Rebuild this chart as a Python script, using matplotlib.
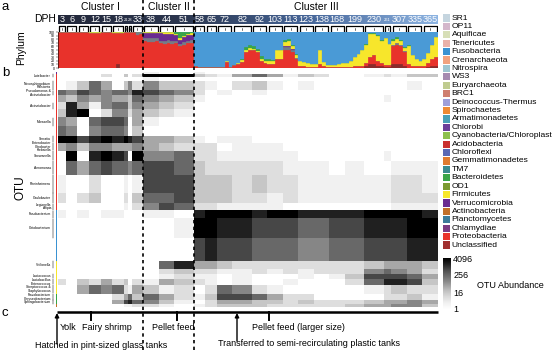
import numpy as np
import matplotlib.pyplot as plt
from matplotlib.colors import LinearSegmentedColormap
from matplotlib.patches import Rectangle

plt.rcParams['font.family'] = ['Liberation Sans', 'DejaVu Sans']

# ----------------------------------
# 1. Data
# ----------------------------------
dph = [3, 6, 9, 12, 15, 18, 21, 28, 33, 38, 44, 51, 58, 65, 72, 82, 92, 103,
       113, 123, 138, 168, 199, 230, 261, 307, 335, 365]
n_samples = [2, 3, 3, 3, 3, 3, 1, 1, 3, 4, 4, 5, 3, 3, 4, 5, 4, 4, 4, 4, 4, 4,
             5, 5, 2, 4, 4, 4]
cluster_names = ["Cluster I", "Cluster II", "Cluster III"]
cluster_tp = [9, 3, 16]          # time points in each cluster
small_dph = [21, 28, 261]

# phylum relative abundance (%) per sample, keyed by DPH
prot_pct = {3: [100, 100], 6: [100, 100, 100], 9: [100, 100, 100], 12: [97, 96, 98],
            15: [100, 100, 100], 18: [98, 88, 98], 21: [100], 28: [100], 33: [100, 92, 95],
            38: [75, 73, 72, 74], 44: [70, 67, 69, 67], 51: [70, 62, 65, 70, 70],
            58: [6, 4, 3], 65: [3, 2, 2], 72: [3, 3, 18, 3], 82: [8, 12, 18, 45, 50],
            92: [50, 45, 20, 15], 103: [12, 10, 25, 25], 113: [50, 50, 45, 25],
            123: [5, 5, 4, 4], 138: [4, 10, 5, 3], 168: [3, 3, 3, 3], 199: [3, 4, 5, 5, 5],
            230: [10, 20, 25, 15, 10], 261: [5, 5], 307: [50, 55, 50, 40],
            335: [10, 5, 5, 5], 365: [5, 10, 20, 25]}
firm_pct = {12: [3, 4, 2], 18: [2, 2, 2], 38: [2, 3, 3, 3], 44: [4, 5, 5, 5],
            51: [4, 5, 5, 4, 4], 72: [0, 0, 2, 0], 82: [0, 2, 3, 5, 5], 92: [3, 3, 5, 5],
            103: [8, 10, 25, 25], 113: [12, 15, 10, 8], 123: [15, 12, 10, 8],
            138: [6, 40, 12, 5], 168: [5, 5, 8, 10], 199: [10, 15, 25, 35, 45],
            230: [50, 65, 60, 70, 60], 261: [75, 60], 307: [10, 10, 10, 8],
            335: [50, 30, 20, 15], 365: [20, 30, 40, 55]}
bact_pct = {51: [5, 18, 10, 5, 3], 82: [0, 0, 3, 8, 10], 92: [8, 5, 8, 5], 103: [5, 3, 0, 0],
            113: [5, 5, 3, 2], 230: [3, 2, 3, 2, 2], 307: [5, 5, 3, 2], 335: [5, 0, 0, 0]}
verr_pct = {38: [15, 14, 15, 15], 44: [20, 20, 18, 20], 51: [15, 10, 12, 15, 15],
            113: [3, 3, 2, 0]}
other_pct = {33: [0, 8, 5], 38: [8, 10, 10, 8], 44: [6, 8, 8, 8], 51: [6, 5, 8, 6, 8],
             113: [8, 8, 5, 3], 307: [5, 5, 5, 3]}
uncl_pct = {18: [0, 10, 0], 230: [5, 10, 10, 5, 5], 261: [3, 3], 307: [10, 10, 10, 5],
            365: [0, 3, 5, 5]}

# OTU heat map, blocks of rows; levels 0 (absent) .. 9 (4096), one digit per DPH
band_labels = ["", "Luteibacter", "", "Novosphingobium\nRalstonia",
               "Pseudomonas &\nAcinetobacter", "", "Acinetobacter", "", "Moraxella", "",
               "Serratia", "Enterobacter\nCitrobacter\nKlebsiella", "Shewanella",
               "Aeromonas", "Rheinheimera", "Caulobacter", "Legionella\nAfipia",
               "Fusobacterium", "Cetobacterium", "",
               "Veillonella", "", "Lactococcus", "Lactobacillus\nEnterococcus",
               "Streptococcus &\nStaphylococcus",
               "Flavobacterium\nChryseobacterium", "Sphingobacterium", ""]
band_phyla = ["Verrucomicrobia"] + ["Proteobacteria"] * 16 + ["Fusobacteria"] * 3 + \
             ["Firmicutes"] * 5 + ["Bacteroidetes"] * 2 + ["Actinobacteria"]
band_rows = [2, 3, 4, 9, 5, 7, 7, 8, 9, 9, 7, 8, 10, 14, 18, 10, 7,
             8, 20, 22, 8, 5, 5, 6, 9, 6, 4, 3]
band_levels = [
    "000000000|100|1000000000000000",
    "000020302|999|3214641320012133",
    "000000000|100|0000000000000000",
    "013640352|533|2102310100000010",
    "657656658|765|2010100000000000",
    "435454436|543|1000000000001000",
    "284156635|432|0000000000000000",
    "389025524|321|0000000000000000",
    "540677604|100|0000000000000000",
    "650566503|000|0000000000000000",
    "997898987|443|1011000000000000",
    "453554445|432|2201110000000000",
    "090898709|556|2211111000001000",
    "064676656|776|3222221110100111",
    "100200101|777|3332322111111221",
    "202300203|667|3332212111111222",
    "000000102|576|2211110000000111",
    "101011000|110|8999899888899998",
    "000000000|001|9988777667788899",
    "000000000|000|7877666556677788",
    "000000000|068|4432222222234443",
    "000000000|023|2211212122256542",
    "000000000|012|1101000101377764",
    "203242302|143|2101001000268873",
    "004656214|312|0265210000012322",
    "000002463|642|1377642200002231",
    "000004786|531|0244332322234454",
    "000000112|210|1233322222344553",
]

legend_names = ["SR1", "OP11", "Aquificae", "Tenericutes", "Fusobacteria", "Crenarchaeota",
                "Nitrospira", "WS3", "Euryarchaeota", "BRC1", "Deinococcus-Thermus",
                "Spirochaetes", "Armatimonadetes", "Chlorobi", "Cyanobacteria/Chloroplast",
                "Acidobacteria", "Chloroflexi", "Gemmatimonadetes", "TM7", "Bacteroidetes",
                "OD1", "Firmicutes", "Verrucomicrobia", "Actinobacteria", "Planctomycetes",
                "Chlamydiae", "Proteobacteria", "Unclassified"]
legend_colors = ["#c5d5df", "#d4b7cb", "#d7dfb7", "#e9b1a9", "#3a92d2", "#f2a27e",
                 "#9fc6d1", "#a68bb0", "#bfcb8f", "#cf7f6f", "#9f9fd8", "#ef8a33",
                 "#4aa0b7", "#6b3f99", "#8dbf4e", "#c9302f", "#5a69b6", "#e07b30",
                 "#3b8a8f", "#3aa548", "#7b9a30", "#f7e62b", "#6a2b91", "#c2702a",
                 "#3d7c9b", "#7b3c83", "#e8322b", "#a12f2f"]
phylum_color = dict(zip(legend_names, legend_colors))

# ----------------------------------
# 2. Helpers
# ----------------------------------
W, H = 554, 351
N = sum(n_samples)
starts = np.concatenate([[0], np.cumsum(n_samples)[:-1]])
centers = starts + (np.array(n_samples) - 1) / 2.0
X0, X1 = 58, 438
px_per = (X1 - X0) / N


def expand(d):
    return np.concatenate([np.array(d.get(t, [0] * n), float)
                           for t, n in zip(dph, n_samples)])


fig = plt.figure(figsize=(W / 100, H / 100), dpi=100)


def px_axes(x0, y0, x1, y1, **kw):
    return fig.add_axes([x0 / W, 1 - y1 / H, (x1 - x0) / W, (y1 - y0) / H], **kw)


# ----------------------------------
# 3. DPH header and brackets
# ----------------------------------
hdr_cmap = LinearSegmentedColormap.from_list(
    "hdr", ["#23283a", "#2c3750", "#47679a", "#8db4e2"])
ax_hdr = px_axes(X0, 15, X1, 24)
ax_hdr.imshow(np.linspace(0, 1, 256)[None, :], cmap=hdr_cmap, aspect='auto',
              extent=(-0.5, N - 0.5, 0, 1))
ax_hdr.set_xlim(-0.5, N - 0.5)
ax_hdr.set_ylim(0, 1)
ax_hdr.axis('off')
for t, c in zip(dph, centers):
    ax_hdr.text(c, 0.45, str(t), color='white', ha='center', va='center',
                fontsize=3 if t in small_dph else 6.5)

ax_br = px_axes(X0, 25, X1, 32)
for s, n in zip(starts, n_samples):
    l, r = s - 0.5 + 0.3, s + n - 0.5 - 0.3
    ax_br.plot([l, l, r, r], [0, 1, 1, 0], color='black', lw=0.9)
    ax_br.plot([s + (n - 1) / 2] * 2, [0.25, 0.65], color='black', lw=0.4)
ax_br.set_xlim(-0.5, N - 0.5)
ax_br.set_ylim(-0.1, 1.2)
ax_br.axis('off')

# ----------------------------------
# 4. Phylum stacked bars
# ----------------------------------
ax_phy = px_axes(X0, 32, X1, 68)
xs = np.arange(N)
stack = [(expand(uncl_pct), "#8a2c2c"), (expand(prot_pct), "#e8322b"),
         (expand(other_pct), "#767b85"), (expand(verr_pct), "#6a2b91"),
         (expand(firm_pct), "#f7e62b"), (expand(bact_pct), "#3aa548")]
bottom = np.zeros(N)
for vals, col in stack:
    ax_phy.bar(xs, vals, bottom=bottom, width=1.0, color=col, edgecolor=col, lw=0.2)
    bottom += vals
fuso = np.clip(100 - bottom, 0, None)
ax_phy.bar(xs, fuso, bottom=bottom, width=1.0, color="#4a9ad6", edgecolor="#4a9ad6", lw=0.2)
ax_phy.set_xlim(-0.5, N - 0.5)
ax_phy.set_ylim(0, 100)
ax_phy.set_xticks([])
ax_phy.set_yticks(range(0, 101, 10))
ax_phy.tick_params(axis='y', labelsize=2.5, length=1.5, width=0.3, pad=0.5)
for sp in ['top', 'right', 'bottom']:
    ax_phy.spines[sp].set_visible(False)
ax_phy.spines['left'].set_linewidth(0.4)

# ----------------------------------
# 5. OTU heat map + phylum strip
# ----------------------------------
rows = []
for nr, lev in zip(band_rows, band_levels):
    lv = np.array([int(ch) for ch in lev.replace("|", "")])
    rows += [np.repeat(lv, n_samples)] * nr
mat = np.array(rows, float)
n_rows = mat.shape[0]
HM_TOP, HM_BOT = 72, 307

ax_hm = px_axes(X0, HM_TOP, X1, HM_BOT)
ax_hm.imshow(mat, cmap='Greys', vmin=0, vmax=9, aspect='auto', interpolation='nearest',
             extent=(-0.5, N - 0.5, n_rows, 0))
ax_hm.axis('off')

ax_st = px_axes(55.5, HM_TOP, 57.5, HM_BOT)
row_start = np.concatenate([[0], np.cumsum(band_rows)[:-1]])
for r0, nr, ph in zip(row_start, band_rows, band_phyla):
    ax_st.bar(0, nr, bottom=r0, width=1, color=phylum_color[ph], lw=0)
ax_st.set_ylim(n_rows, 0)
ax_st.set_xlim(-0.5, 0.5)
ax_st.axis('off')

# ----------------------------------
# 6. Overlay: text, dashed lines, legend, panel c
# ----------------------------------
ax = fig.add_axes([0, 0, 1, 1], zorder=10)
ax.set_xlim(0, W)
ax.set_ylim(H, 0)
ax.axis('off')
ax.patch.set_alpha(0)

row_px = (HM_BOT - HM_TOP) / n_rows
for lab, r0, nr in zip(band_labels, row_start, band_rows):
    if not lab:
        continue
    y0 = HM_TOP + r0 * row_px
    y1 = y0 + nr * row_px
    ax.text(51, (y0 + y1) / 2, lab, ha='right', va='center', fontsize=2.4,
            linespacing=0.9)
    ax.plot([52.8, 52.8], [y0 + 0.4, y1 - 0.4], color='black', lw=0.35)

tp_cum = np.cumsum(cluster_tp)
x_edges = [X0]
for k in tp_cum:
    x_edges.append(X0 + (starts[k] if k < len(starts) else N) * px_per)
for xb in x_edges[1:-1]:
    ax.plot([xb, xb], [0, H], color='black', lw=1.2, ls=(0, (2, 2)))
for name, a, b in zip(cluster_names, x_edges[:-1], x_edges[1:]):
    ax.text((a + b) / 2, 7.5, name, ha='center', va='center', fontsize=7.5)

ax.text(45, 19.5, "DPH", ha='center', va='center', fontsize=7.5)
ax.text(21, 48, "Phylum", ha='center', va='center', rotation=90, fontsize=7.5)
ax.text(20, 188, "OTU", ha='center', va='center', rotation=90, fontsize=8.5)
for letter, y in [("a", 7), ("b", 73), ("c", 313)]:
    ax.text(2, y, letter, ha='left', va='center', fontsize=9.5)

# legend
for i, (name, col) in enumerate(zip(legend_names, legend_colors)):
    y = 18 + i * 8.41
    ax.add_patch(Rectangle((443, y - 3.6), 7, 7.2, color=col, lw=0))
    ax.text(451.5, y, name, ha='left', va='center', fontsize=6.1)

# colour bar
ax_cb = px_axes(443, 258, 451, 309)
ax_cb.imshow(np.linspace(12, 0, 256)[:, None], cmap='Greys', vmin=0, vmax=12,
             aspect='auto', extent=(0, 1, 0, 12))
ax_cb.set_xticks([])
ax_cb.set_yticks([0, 4, 8, 12])
ax_cb.set_yticklabels(["1", "16", "256", "4096"])
ax_cb.yaxis.tick_right()
ax_cb.tick_params(axis='y', length=0, labelsize=6.5, pad=1.5)
for sp in ax_cb.spines.values():
    sp.set_visible(False)
ax.text(510, 285, "OTU Abundance", ha='center', va='center', fontsize=6.5)

# panel c timeline
ax.plot([57, X1], [312, 312], color='black', lw=1.8, solid_capstyle='butt')
for xt in [91, 177, 269]:
    ax.plot([xt, xt], [312, 320], color='black', lw=1.4)
for xa, ya in [(57, 344), (237, 341)]:
    ax.annotate("", xy=(xa, 313), xytext=(xa, ya),
                arrowprops=dict(arrowstyle='-|>', color='black', lw=1.0,
                                mutation_scale=6, shrinkA=0, shrinkB=0))
ax.text(60, 328, "Yolk", ha='left', va='center', fontsize=6.5)
ax.text(82, 328, "Fairy shrimp", ha='left', va='center', fontsize=6.5)
ax.text(152, 328, "Pellet feed", ha='left', va='center', fontsize=6.5)
ax.text(252, 328, "Pellet feed (larger size)", ha='left', va='center', fontsize=6.5)
ax.text(35, 345, "Hatched in pint-sized glass tanks", ha='left', va='center', fontsize=6.5)
ax.text(218, 344, "Transferred to semi-recirculating plastic tanks", ha='left',
        va='center', fontsize=6.5)

fig.savefig("out.png", dpi=100)
